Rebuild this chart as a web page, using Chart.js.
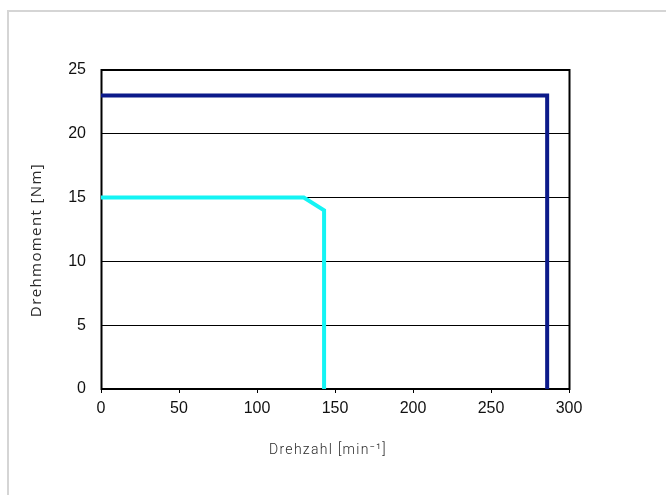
<!DOCTYPE html>
<html>
<head>
<meta charset="utf-8">
<script src="https://cdn.jsdelivr.net/npm/chart.js@4"></script>
<style>
    html, body { margin: 0; padding: 0; background: #fff; overflow: hidden; }
    .frame {
        position: absolute; left: 7px; top: 10px;
        width: 700px; height: 540px;
        border: 2px solid #d5d5d5;
    }
    #kennlinie { position: absolute; left: 0; top: 0; }
</style>
</head>
<body>
<div class="frame"></div>
<canvas id="kennlinie" width="666" height="495"></canvas>
<script>
// Drehmoment-Drehzahl-Kennlinien
const speedTicks = [0, 50, 100, 150, 200, 250, 300];
const torqueTicks = [0, 5, 10, 15, 20, 25];

const motorA_speed = [0, 286, 286];
const motorA_torque = [23, 23, 0];

const motorB_speed = [0, 130, 143, 143];
const motorB_torque = [15, 15, 14, 0];

const xTitle = 'Drehzahl [min\u207B\u00B9]';
const yTitle = 'Drehmoment [Nm]';

const toPoints = (xs, ys) => xs.map((x, i) => ({ x: x, y: ys[i] }));

// schwarzer Rahmen um die Zeichenfläche
const plotFrame = {
    id: 'plotFrame',
    beforeDatasetsDraw(chart) {
        const { ctx, chartArea: a } = chart;
        ctx.save();
        ctx.strokeStyle = '#000';
        ctx.lineWidth = 2;
        ctx.strokeRect(a.left + 0.5, a.top, a.right - a.left, a.bottom - a.top);
        ctx.restore();
    }
};

// Achsentitel mit Sperrung selbst zeichnen
const axisTitles = {
    id: 'axisTitles',
    afterDraw(chart) {
        const { ctx } = chart;
        ctx.save();
        ctx.fillStyle = '#2a2a2a';
        ctx.textAlign = 'center';
        ctx.textBaseline = 'middle';

        ctx.font = '300 14px Roboto';
        ctx.letterSpacing = '1.3px';
        ctx.fillText(xTitle, 328, 450);

        ctx.translate(37, 240);
        ctx.rotate(-Math.PI / 2);
        ctx.font = '15px "Open Sans"';
        ctx.letterSpacing = '1.4px';
        ctx.fillText(yTitle, 0, 0);
        ctx.restore();
    }
};

new Chart(document.getElementById('kennlinie'), {
    type: 'scatter',
    data: {
        datasets: [
            {
                data: toPoints(motorA_speed, motorA_torque),
                borderColor: '#0c1a8a',
                borderWidth: 4,
                showLine: true,
                pointRadius: 0,
                borderJoinStyle: 'miter',
                borderCapStyle: 'butt'
            },
            {
                data: toPoints(motorB_speed, motorB_torque),
                borderColor: '#14f4f4',
                borderWidth: 4,
                showLine: true,
                pointRadius: 0,
                borderJoinStyle: 'miter',
                borderCapStyle: 'butt'
            }
        ]
    },
    options: {
        responsive: false,
        animation: false,
        devicePixelRatio: 1,
        layout: { padding: { top: 70, right: 97, left: 0, bottom: 0 } },
        plugins: {
            legend: { display: false },
            tooltip: { enabled: false }
        },
        scales: {
            x: {
                type: 'linear',
                min: 0,
                max: 300,
                afterFit(scale) { scale.height = 106; },
                afterBuildTicks(scale) { scale.ticks = speedTicks.map(v => ({ value: v })); },
                border: { display: false },
                grid: {
                    drawOnChartArea: false,
                    drawTicks: true,
                    tickLength: 4,
                    color: '#000',
                    lineWidth: 1
                },
                ticks: {
                    padding: 6,
                    color: '#111',
                    maxRotation: 0,
                    font: { family: '"Liberation Sans", Arial', size: 16 }
                }
            },
            y: {
                type: 'linear',
                min: 0,
                max: 25,
                afterFit(scale) { scale.width = 101; },
                afterBuildTicks(scale) { scale.ticks = torqueTicks.map(v => ({ value: v })); },
                border: { display: false },
                grid: {
                    drawTicks: false,
                    color: '#000',
                    lineWidth: 1
                },
                ticks: {
                    padding: 15,
                    color: '#111',
                    font: { family: '"Liberation Sans", Arial', size: 16 }
                }
            }
        }
    },
    plugins: [plotFrame, axisTitles]
});
</script>
</body>
</html>
